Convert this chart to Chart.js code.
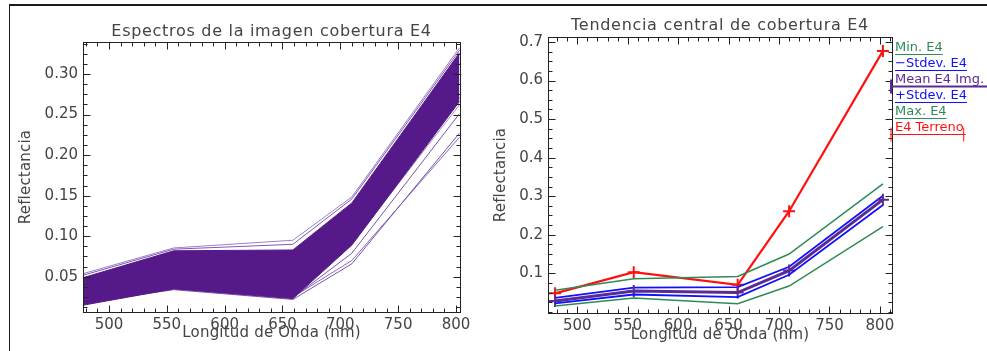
<!DOCTYPE html>
<html>
<head>
<meta charset="utf-8">
<script src="https://cdn.jsdelivr.net/npm/chart.js@4.4.1/dist/chart.umd.min.js"></script>
<style>
  body{margin:0;background:#fff;width:987px;height:351px;overflow:hidden;position:relative}
  #frame{position:absolute;left:9px;top:4px;width:990px;height:360px;border-top:2px solid #1a1a1a;border-left:1px solid #1a1a1a}
  #c1{position:absolute;left:0;top:0}
  #c2{position:absolute;left:490px;top:0}
</style>
</head>
<body>
<div id="frame"></div>
<canvas id="c1" width="490" height="351"></canvas>
<canvas id="c2" width="497" height="351"></canvas>
<script>
// longitudes de onda de las bandas (nm)
const wavelengths = [478, 556, 659, 710, 803];

// panel izquierdo: banda de espectros de la imagen
const bandTop    = [0.049, 0.082, 0.083, 0.141, 0.326];
const bandBottom = [0.015, 0.035, 0.023, 0.089, 0.266];
const edgeTop1   = [0.054, 0.0855, 0.095, 0.1485, 0.332];
const edgeTop2   = [0.052, 0.084, 0.090, 0.146, 0.329];
const innerLight = [0.047, 0.078, 0.079, 0.136, 0.320];
const innerLight2 = [0.044, 0.076, 0.075, 0.131, 0.313];
const edgeLow1   = [0.016, 0.037, 0.027, 0.091, 0.262];
const edgeLow2   = [0.018, 0.039, 0.031, 0.095, 0.271];
const outlier1   = [0.019, 0.036, 0.024, 0.079, 0.251];
const outlier2   = [0.018, 0.034, 0.022, 0.066, 0.227];
const outlier3   = [0.020, 0.037, 0.025, 0.070, 0.222];

// panel derecho: tendencia central
const minE4     = [0.015, 0.036, 0.021, 0.067, 0.221];
const stdMinus  = [0.022, 0.045, 0.038, 0.096, 0.277];
const meanE4    = [0.028, 0.054, 0.050, 0.107, 0.291];
const stdPlus   = [0.036, 0.063, 0.064, 0.117, 0.301];
const maxE4     = [0.056, 0.086, 0.092, 0.150, 0.332];
const terreno   = [0.048, 0.103, 0.070, 0.261, 0.677];

const legendLabels = ['Min. E4', '\u2212Stdev. E4', 'Mean E4 Img.', '+Stdev. E4', 'Max. E4', 'E4 Terreno'];

// ticks
const xTicks = [500, 550, 600, 650, 700, 750, 800];
const yTicksLeft = [0.05, 0.10, 0.15, 0.20, 0.25, 0.30];
const yTicksRight = [0.1, 0.2, 0.3, 0.4, 0.5, 0.6, 0.7];

const PURPLE = '#56198a';
const GREEN = '#2e8b57';
const BLUE = '#1010ff';
const RED = '#ff1010';
const TXT = '#444';
const FONT = 'DejaVu Sans';

const pts = arr => arr.map((v, i) => ({x: wavelengths[i], y: v}));

// marco tipo IDL: caja + ticks hacia adentro en los 4 lados + titulos
const idlFrame = {
  id: 'idlFrame',
  afterDatasetsDraw(chart, args, o) {
    const {ctx, chartArea: a, scales: {x, y}} = chart;
    ctx.save();
    ctx.strokeStyle = '#222';
    ctx.lineWidth = 1;
    const L = Math.round(a.left) + 0.5, R = Math.round(a.right) + 0.5;
    const T = Math.round(a.top) + 0.5, B = Math.round(a.bottom) + 0.5;
    ctx.strokeRect(L, T, R - L, B - T);
    ctx.beginPath();
    const tickX = (v, len) => {
      const p = Math.round(x.getPixelForValue(v)) + 0.5;
      ctx.moveTo(p, B); ctx.lineTo(p, B - len);
      ctx.moveTo(p, T); ctx.lineTo(p, T + len);
    };
    const tickY = (v, len) => {
      const p = Math.round(y.getPixelForValue(v)) + 0.5;
      ctx.moveTo(L, p); ctx.lineTo(L + len, p);
      ctx.moveTo(R, p); ctx.lineTo(R - len, p);
    };
    for (let k = Math.ceil(x.min / o.xMinor); k * o.xMinor <= x.max; k++) tickX(k * o.xMinor, 4);
    for (let k = Math.ceil(y.min / o.yMinor - 1e-9); k * o.yMinor <= y.max + 1e-9; k++) tickY(k * o.yMinor, 4);
    xTicks.forEach(v => tickX(v, 7));
    o.yMajor.forEach(v => tickY(v, 7));
    ctx.stroke();

    // textos
    ctx.fillStyle = TXT;
    ctx.textAlign = 'center';
    ctx.textBaseline = 'middle';
    ctx.font = '16px "' + FONT + '"';
    ctx.letterSpacing = '0.7px';
    ctx.fillText(o.title, (a.left + a.right) / 2, o.titleY);
    ctx.font = '15px "' + FONT + '"';
    ctx.letterSpacing = '0.2px';
    ctx.fillText('Longitud de Onda (nm)', (a.left + a.right) / 2, o.xTitleY);
    ctx.translate(o.yTitleX, (a.top + a.bottom) / 2);
    ctx.rotate(-Math.PI / 2);
    ctx.fillText('Reflectancia', 0, 0);
    ctx.restore();
  }
};

// leyenda a la derecha (texto subrayado con la linea de cada serie)
const idlLegend = {
  id: 'idlLegend',
  afterDraw(chart) {
    const {ctx, chartArea: a} = chart;
    const x0 = a.right + 3;
    ctx.save();
    ctx.font = '13px "' + FONT + '"';
    ctx.textBaseline = 'middle';
    ctx.textAlign = 'left';
    chart.data.datasets.forEach((ds, i) => {
      const yc = 48 + i * 16;
      const w = ctx.measureText(ds.label).width;
      const isMean = ds.label.startsWith('Mean');
      ctx.fillStyle = ds.borderColor;
      ctx.fillText(ds.label, x0, yc);
      ctx.strokeStyle = ds.borderColor;
      ctx.lineWidth = isMean ? 2 : 1;
      const ly = Math.round(yc + 6) + 0.5;
      const xs = ds.pointRadius ? x0 - 5 : x0;
      const xe = isMean ? chart.width + 10 : (ds.pointRadius ? x0 + w + 2 : x0 + w);
      ctx.beginPath();
      ctx.moveTo(xs, ly); ctx.lineTo(xe, ly);
      if (ds.pointRadius) {
        ctx.moveTo(xs + 1, ly - 7); ctx.lineTo(xs + 1, ly + 7);
        ctx.moveTo(xe - 2, ly - 7); ctx.lineTo(xe - 2, ly + 7);
      }
      ctx.stroke();
    });
    ctx.restore();
  }
};

const line = (label, data, color, width, extra) => Object.assign({
  label: label, data: pts(data), borderColor: color, backgroundColor: color,
  borderWidth: width, pointRadius: 0, tension: 0, fill: false
}, extra || {});

function axes(xmin, xmax, ymin, ymax, yTicks, dec, yW, xH) {
  return {
    x: {
      type: 'linear', min: xmin, max: xmax,
      grid: {display: false, drawTicks: false}, border: {display: false},
      afterBuildTicks: s => { s.ticks = xTicks.map(v => ({value: v})); },
      afterFit: s => { s.height = xH; },
      ticks: {padding: 4, color: TXT, font: {family: FONT, size: 15}, maxRotation: 0, callback: v => v}
    },
    y: {
      type: 'linear', min: ymin, max: ymax,
      grid: {display: false, drawTicks: false}, border: {display: false},
      afterBuildTicks: s => { s.ticks = yTicks.map(v => ({value: v})); },
      afterFit: s => { s.width = yW; },
      ticks: {padding: 5, color: TXT, font: {family: FONT, size: 15}, callback: v => v.toFixed(dec)}
    }
  };
}

new Chart(document.getElementById('c1'), {
  type: 'line',
  data: {
    datasets: [
      line('band top', bandTop, PURPLE, 1, {fill: '+1', backgroundColor: PURPLE}),
      line('band bottom', bandBottom, PURPLE, 1),
      line('s1', edgeTop1, '#9b80c4', 1),
      line('s2', edgeTop2, '#7e58b0', 1),
      line('s3', innerLight, '#c9b8e0', 1),
      line('s3b', innerLight2, '#8a68bb', 1),
      line('s4', edgeLow1, '#a58ccb', 1),
      line('s4b', edgeLow2, '#7e58b0', 1),
      line('s5', outlier1, '#7a52ad', 1),
      line('s6', outlier2, '#7a52ad', 1),
      line('s7', outlier3, '#8a66b8', 1)
    ]
  },
  options: {
    responsive: false, animation: false,
    layout: {padding: {left: 0, top: 42, right: 30, bottom: 0}},
    plugins: {
      legend: {display: false}, tooltip: {enabled: false},
      idlFrame: {title: 'Espectros de la imagen cobertura E4', titleY: 32, xTitleY: 333, yTitleX: 26,
        xMinor: 10, yMinor: 0.0125, yMajor: yTicksLeft}
    },
    scales: axes(477.5, 803.5, 0.0065, 0.3395, yTicksLeft, 2, 83, 39)
  },
  plugins: [idlFrame]
});

const cross = (color, r, bw) => ({pointRadius: r, pointStyle: 'cross', pointBorderColor: color, pointBorderWidth: bw});

new Chart(document.getElementById('c2'), {
  type: 'line',
  data: {
    datasets: [
      line(legendLabels[0], minE4, GREEN, 1.5),
      line(legendLabels[1], stdMinus, BLUE, 1.8),
      line(legendLabels[2], meanE4, '#5b2a92', 3, cross('#5b2a92', 6, 2)),
      line(legendLabels[3], stdPlus, BLUE, 1.8),
      line(legendLabels[4], maxE4, GREEN, 1.5),
      line(legendLabels[5], terreno, RED, 2.2, cross(RED, 6, 2))
    ]
  },
  options: {
    responsive: false, animation: false, clip: false,
    layout: {padding: {left: 0, top: 37, right: 95, bottom: 0}},
    plugins: {
      legend: {display: false}, tooltip: {enabled: false},
      idlFrame: {title: 'Tendencia central de cobertura E4', titleY: 26, xTitleY: 335, yTitleX: 11,
        xMinor: 10, yMinor: 0.025, yMajor: yTicksRight}
    },
    scales: axes(471, 812, -0.003, 0.713, yTicksRight, 1, 58, 38)
  },
  plugins: [idlFrame, idlLegend]
});
</script>
</body>
</html>
